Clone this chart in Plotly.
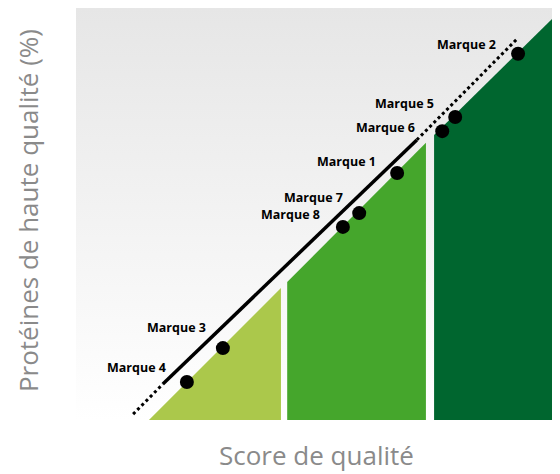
import plotly.graph_objects as go


# =====================================================
# DATA
# =====================================================

brands = ["Marque 1", "Marque 2", "Marque 3", "Marque 4",
          "Marque 5", "Marque 6", "Marque 7", "Marque 8"]

score = [66.9, 92.1, 30.6, 23.1, 79.0, 76.3, 59.0, 55.6]

protein = [59.1, 87.6, 17.2, 9.1, 72.5, 69.1, 49.5, 46.2]

# quality bands (score start / end, protein height at each edge)
band_x0 = [15.2, 44.0, 74.6]
band_x1 = [42.7, 72.9, 100.0]
band_y0 = [0.0, 33.0, 68.2]
band_y1 = [31.6, 66.3, 96.9]
band_colors = ["#abc84b", "#45a62c", "#00662f"]

# trend line: dotted start, solid middle, dotted end
trend_x = [11.9, 18.1, 71.0, 92.1]
trend_y = [1.4, 8.6, 67.0, 91.4]

Y_TOP = 98.56


# label offsets in pixels (right edge of text vs. point)
label_shift = {
    "Marque 1": (-19, 11),
    "Marque 2": (-20, 9),
    "Marque 3": (-15, 21),
    "Marque 4": (-19, 14),
    "Marque 5": (-19, 13),
    "Marque 6": (-25, 4),
    "Marque 7": (-14, 16),
    "Marque 8": (-21, 12),
}


# =====================================================
# FIGURE
# =====================================================

fig = go.Figure()

# gradient background
fig.add_trace(go.Scatter(
    x=[0, 100, 100, 0, 0],
    y=[0, 0, Y_TOP, Y_TOP, 0],
    mode="lines",
    line=dict(width=0),
    fill="toself",
    fillgradient=dict(
        type="vertical",
        colorscale=[[0, "#ffffff"], [1, "#e6e6e6"]]
    ),
    hoverinfo="skip",
    showlegend=False
))

# green bands
for x0, x1, y0, y1, c in zip(band_x0, band_x1, band_y0, band_y1, band_colors):

    fig.add_trace(go.Scatter(
        x=[x0, x1, x1, x0, x0],
        y=[0, 0, y1, y0, 0],
        mode="lines",
        line=dict(width=0),
        fill="toself",
        fillcolor=c,
        hoverinfo="skip",
        showlegend=False
    ))

# trend line
fig.add_trace(go.Scatter(
    x=trend_x[0:2], y=trend_y[0:2],
    mode="lines",
    line=dict(color="black", width=3, dash="dot"),
    showlegend=False
))

fig.add_trace(go.Scatter(
    x=trend_x[1:3], y=trend_y[1:3],
    mode="lines",
    line=dict(color="black", width=3.5),
    showlegend=False
))

fig.add_trace(go.Scatter(
    x=trend_x[2:4], y=trend_y[2:4],
    mode="lines",
    line=dict(color="black", width=3, dash="dot"),
    showlegend=False
))

# brands
fig.add_trace(go.Scatter(
    x=score, y=protein,
    mode="markers",
    marker=dict(color="black", size=14),
    text=brands,
    showlegend=False
))

for b, sx, py in zip(brands, score, protein):

    dx, dy = label_shift[b]

    fig.add_annotation(
        x=sx, y=py,
        text="<b>" + b + "</b>",
        showarrow=False,
        xanchor="right",
        yanchor="middle",
        xshift=dx,
        yshift=dy,
        font=dict(family="Open Sans", size=12.5, color="black")
    )

# axis titles
fig.add_annotation(
    xref="paper", yref="paper",
    x=-0.1, y=0.507,
    text="Protéines de haute qualité (%)",
    textangle=-90,
    showarrow=False,
    xanchor="center", yanchor="middle",
    font=dict(family="Open Sans", size=26, color="#8a8a8a")
)

fig.add_annotation(
    xref="paper", yref="paper",
    x=0.5, y=-0.085,
    text="Score de qualité",
    showarrow=False,
    xanchor="center", yanchor="middle",
    font=dict(family="Open Sans", size=26, color="#8a8a8a")
)

fig.update_xaxes(range=[0, 100], visible=False, fixedrange=True)
fig.update_yaxes(range=[0, Y_TOP], visible=False, fixedrange=True)

fig.update_layout(
    width=552,
    height=466,
    margin=dict(l=68, r=4, t=0, b=54),
    paper_bgcolor="white",
    plot_bgcolor="white",
    showlegend=False
)

fig.write_html("out.html")
